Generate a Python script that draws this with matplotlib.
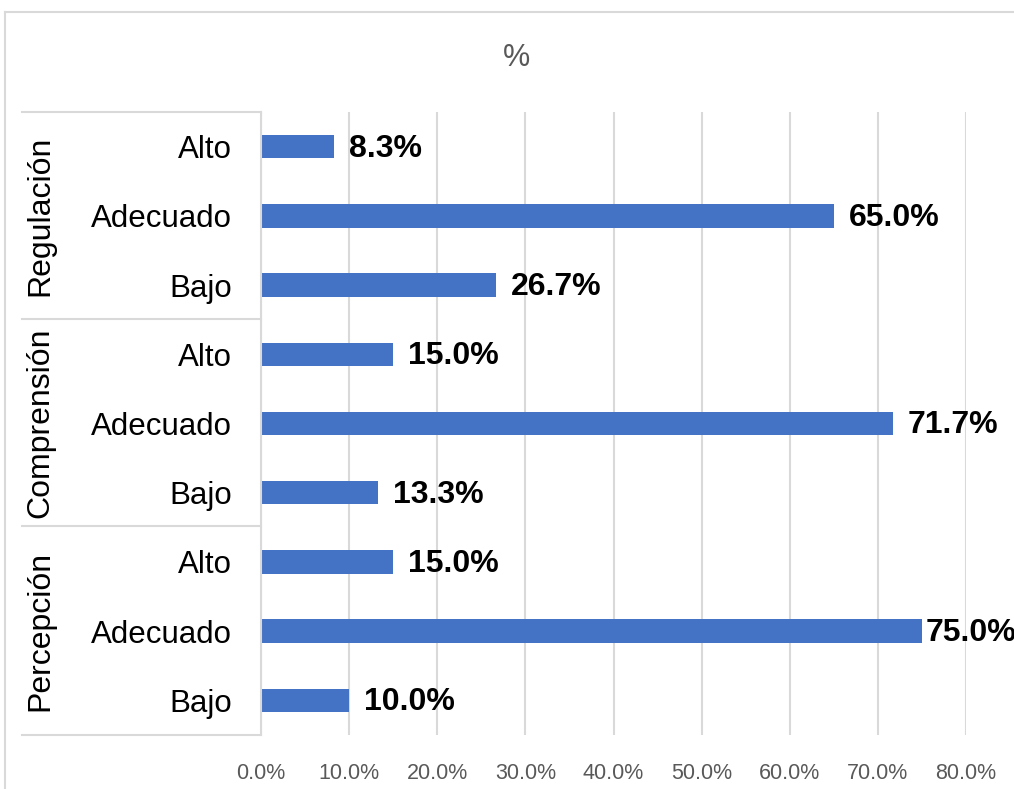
import matplotlib
matplotlib.use("Agg")
import matplotlib.pyplot as plt
from matplotlib.lines import Line2D
import numpy as np

groups = ["Percepción", "Comprensión", "Regulación"]
levels = ["Bajo", "Adecuado", "Alto"]
values = {
    "Percepción": [10.0, 75.0, 15.0],
    "Comprensión": [13.3, 71.7, 15.0],
    "Regulación": [26.7, 65.0, 8.3],
}
xticks = [0, 10, 20, 30, 40, 50, 60, 70, 80]
title = "%"

W, H = 1014, 789
fig = plt.figure(figsize=(W / 100, H / 100), dpi=100)
fig.patch.set_facecolor("white")

L, R, T, B = 261, 966, 112, 735
ax = fig.add_axes([L / W, 1 - B / H, (R - L) / W, (B - T) / H])

labels = []
vals = []
for g in groups:
    for lv, v in zip(levels, values[g]):
        labels.append(lv)
        vals.append(v)
ypos = np.arange(len(vals))

bar_color = "#4472C4"
grid_color = "#D9D9D9"
ax.barh(ypos, vals, height=0.34, color=bar_color, zorder=3)
ax.set_xlim(0, 80)
ax.set_ylim(-0.5, len(vals) - 0.5)
ax.set_xticks(xticks)
ax.set_xticklabels([f"{t:.1f}%" for t in xticks],
                   fontfamily=["Liberation Sans Narrow", "Liberation Sans", "DejaVu Sans"],
                   fontsize=15.5, color="#595959")
ax.tick_params(axis="x", length=0, pad=20)
ax.set_yticks(ypos)
ax.set_yticklabels(labels, fontfamily=["Liberation Sans", "DejaVu Sans"],
                   fontsize=22.5, color="#000000")
ax.tick_params(axis="y", length=0, pad=21)
ax.grid(axis="x", color=grid_color, linewidth=1.5, zorder=0)
for s in ["top", "right", "bottom"]:
    ax.spines[s].set_visible(False)
ax.spines["left"].set_color(grid_color)
ax.spines["left"].set_linewidth(1.5)
ax.spines["left"].set_zorder(4)

px_per_unit = (R - L) / 80.0
for y, v in zip(ypos, vals):
    off = 15
    if L + v * px_per_unit + off + 90 > W:
        off = 4
    ax.annotate(f"{v:.1f}%", (v, y), xytext=(off, -2), textcoords="offset pixels",
                ha="left", va="center", fontsize=23, fontweight="bold",
                fontfamily=["Liberation Sans", "DejaVu Sans"], color="#000000",
                annotation_clip=False, zorder=5)

# multi-level category axis lines
for yy in [T, 319, 526, B]:
    fig.add_artist(Line2D([22 / W, L / W], [1 - yy / H, 1 - yy / H],
                          color=grid_color, linewidth=1.5))
# group labels
bounds = [(526, B), (319, 526), (T, 319)]
for g, (y0, y1) in zip(groups, bounds):
    fig.text(40 / W, 1 - (y0 + y1) / 2 / H, g, rotation=90, ha="center", va="center",
             fontsize=23, fontfamily=["Liberation Sans", "DejaVu Sans"], color="#000000")

# outer chart border
fig.add_artist(Line2D([5 / W, 1.0], [1 - 12 / H, 1 - 12 / H], color=grid_color, linewidth=1.5))
fig.add_artist(Line2D([5 / W, 5 / W], [1 - 12 / H, 0.0], color=grid_color, linewidth=1.5))

fig.text(517 / W, 1 - 58 / H, title, ha="center", va="center", fontsize=22,
         fontfamily=["Liberation Sans", "DejaVu Sans"], color="#595959")

fig.savefig("out.png", dpi=100, facecolor="white")
